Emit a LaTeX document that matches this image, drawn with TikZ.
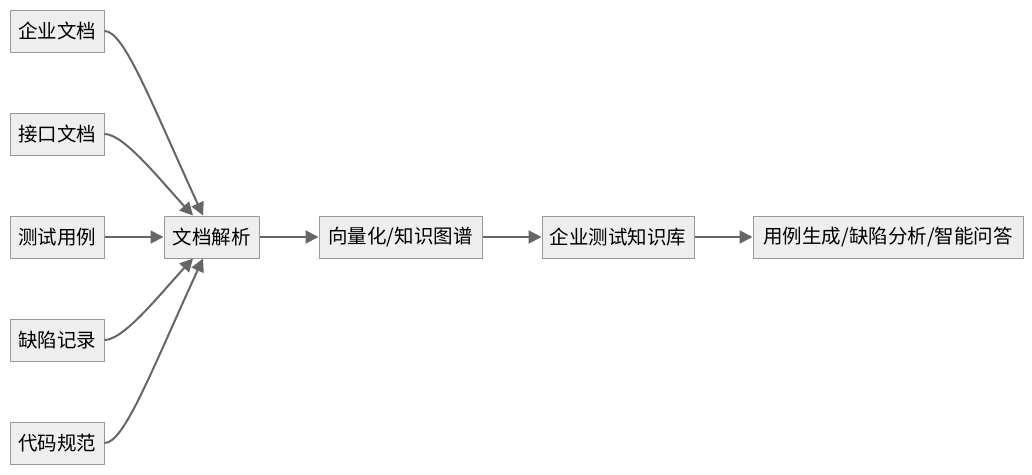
\documentclass[tikz,border=0pt]{standalone}
\usepackage{fontspec}
\setmainfont{Noto Sans CJK SC}
\usetikzlibrary{arrows.meta}
\definecolor{boxfill}{HTML}{EEEEEE}
\definecolor{boxline}{HTML}{999999}
\definecolor{flowline}{HTML}{666666}
\tikzstyle{box}=[draw=boxline,fill=boxfill,line width=1pt,minimum height=42pt,inner sep=0pt,font=\fontsize{19.5}{21}\selectfont]
\tikzstyle{flow}=[draw=flowline,line width=2pt,-{Triangle[length=13pt,width=13pt]}]

\begin{document}
\begin{tikzpicture}[x=1pt,y=-1pt]
\useasboundingbox (0,0) rectangle (1032,474);
% Sources
   \node[box,minimum width=94pt] (qywd) at (57,31) {企业文档};
   \node[box,minimum width=94pt] (jkwd) at (57,134) {接口文档};
   \node[box,minimum width=94pt] (csyl) at (57,237) {测试用例};
   \node[box,minimum width=94pt] (qxjl) at (57,340) {缺陷记录};
   \node[box,minimum width=94pt] (dmgf) at (57,443) {代码规范};

% Pipeline
   \node[box,minimum width=95pt] (wdjx) at (211.5,237) {文档解析};
   \node[box,minimum width=163pt] (xlh) at (400.5,237) {向量化/知识图谱};
   \node[box,minimum width=152pt] (zsk) at (618,237) {企业测试知识库};
   \node[box,minimum width=270pt] (yy) at (888,237) {用例生成/缺陷分析/智能问答};

\draw[flow] (qywd.east) .. controls (124,31) and (150,100) .. ([xshift=-8.5pt]wdjx.north);
   \draw[flow] (jkwd.east) .. controls (124,134) and (160,180) .. ([xshift=-18.5pt]wdjx.north);
   \draw[flow] (csyl) -- (wdjx);
   \draw[flow] (qxjl.east) .. controls (124,340) and (160,294) .. ([xshift=-18.5pt]wdjx.south);
   \draw[flow] (dmgf.east) .. controls (124,443) and (150,374) .. ([xshift=-8.5pt]wdjx.south);
\draw[flow] (wdjx) -- (xlh);
   \draw[flow] (xlh) -- (zsk);
   \draw[flow] (zsk) -- (yy);

\end{tikzpicture}
\end{document}
